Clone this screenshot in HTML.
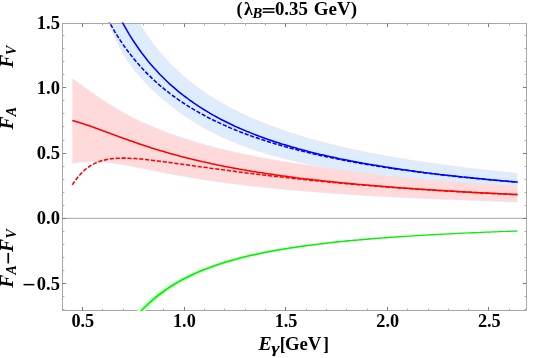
<!DOCTYPE html>
<html><head><meta charset="utf-8"><title>plot</title>
<style>html,body{margin:0;padding:0;background:#fff}svg{display:block}text{font-family:"Liberation Serif",serif}</style></head>
<body><svg width="548" height="358" viewBox="0 0 548 358">
<rect width="548" height="358" fill="#fff"/>
<clipPath id="c"><rect x="62.5" y="22.5" width="464.0" height="288.5"/></clipPath><clipPath id="cb"><rect x="62.5" y="23.5" width="464.0" height="287.0"/></clipPath>
<g clip-path="url(#cb)"><polygon points="72.3,78.8 74.4,80.1 76.4,81.5 78.4,83.0 80.5,84.4 82.5,85.9 84.5,87.4 86.6,88.8 88.6,90.3 90.6,91.8 92.7,93.2 94.7,94.6 96.7,96.0 98.8,97.4 100.8,98.8 102.8,100.2 104.9,101.5 106.9,102.8 108.9,104.1 111.0,105.4 113.0,106.6 115.0,107.9 117.1,109.1 119.1,110.2 121.1,111.4 123.1,112.5 125.2,113.6 127.2,114.7 129.2,115.8 131.3,116.9 133.3,117.9 135.3,118.9 137.4,119.9 139.4,120.9 141.4,121.9 143.5,122.8 145.5,123.7 147.5,124.7 149.6,125.5 151.6,126.4 153.6,127.3 155.7,128.1 157.7,129.0 159.7,129.8 161.8,130.6 163.8,131.4 165.8,132.1 167.9,132.9 169.9,133.7 171.9,134.4 174.0,135.1 176.0,135.8 178.0,136.5 180.1,137.2 182.1,137.9 184.1,138.5 186.2,139.2 188.2,139.8 190.2,140.5 192.3,141.1 194.3,141.7 196.3,142.3 198.4,142.9 200.4,143.5 202.4,144.1 204.5,144.6 206.5,145.2 208.5,145.8 210.5,146.3 212.6,146.8 214.6,147.4 216.6,147.9 218.7,148.4 220.7,148.9 222.7,149.4 224.8,149.9 226.8,150.4 228.8,150.8 230.9,151.3 232.9,151.8 234.9,152.2 237.0,152.7 239.0,153.1 241.0,153.6 243.1,154.0 245.1,154.4 247.1,154.9 249.2,155.3 251.2,155.7 253.2,156.1 255.3,156.5 257.3,156.9 259.3,157.3 261.4,157.7 263.4,158.0 265.4,158.4 267.5,158.8 269.5,159.1 271.5,159.5 273.6,159.9 275.6,160.2 277.6,160.6 279.7,160.9 281.7,161.3 283.7,161.6 285.8,161.9 287.8,162.2 289.8,162.6 291.8,162.9 293.9,163.2 295.9,163.5 297.9,163.8 300.0,164.1 302.0,164.4 304.0,164.7 306.1,165.0 308.1,165.3 310.1,165.6 312.2,165.9 314.2,166.2 316.2,166.5 318.3,166.8 320.3,167.0 322.3,167.3 324.4,167.6 326.4,167.8 328.4,168.1 330.5,168.4 332.5,168.6 334.5,168.9 336.6,169.1 338.6,169.4 340.6,169.6 342.7,169.9 344.7,170.1 346.7,170.3 348.8,170.6 350.8,170.8 352.8,171.1 354.9,171.3 356.9,171.5 358.9,171.7 361.0,172.0 363.0,172.2 365.0,172.4 367.0,172.6 369.1,172.8 371.1,173.1 373.1,173.3 375.2,173.5 377.2,173.7 379.2,173.9 381.3,174.1 383.3,174.3 385.3,174.5 387.4,174.7 389.4,174.9 391.4,175.1 393.5,175.3 395.5,175.5 397.5,175.7 399.6,175.8 401.6,176.0 403.6,176.2 405.7,176.4 407.7,176.6 409.7,176.8 411.8,176.9 413.8,177.1 415.8,177.3 417.9,177.5 419.9,177.6 421.9,177.8 424.0,178.0 426.0,178.1 428.0,178.3 430.1,178.5 432.1,178.6 434.1,178.8 436.2,179.0 438.2,179.1 440.2,179.3 442.3,179.4 444.3,179.6 446.3,179.8 448.4,179.9 450.4,180.1 452.4,180.2 454.4,180.4 456.5,180.5 458.5,180.7 460.5,180.8 462.6,181.0 464.6,181.1 466.6,181.2 468.7,181.4 470.7,181.5 472.7,181.7 474.8,181.8 476.8,181.9 478.8,182.1 480.9,182.2 482.9,182.3 484.9,182.5 487.0,182.6 489.0,182.7 491.0,182.9 493.1,183.0 495.1,183.1 497.1,183.3 499.2,183.4 501.2,183.5 503.2,183.6 505.3,183.8 507.3,183.9 509.3,184.0 511.4,184.1 513.4,184.2 515.4,184.4 517.5,184.5 517.5,201.9 515.4,201.9 513.4,201.8 511.4,201.7 509.3,201.7 507.3,201.6 505.3,201.5 503.2,201.5 501.2,201.4 499.2,201.3 497.1,201.3 495.1,201.2 493.1,201.1 491.0,201.1 489.0,201.0 487.0,200.9 484.9,200.9 482.9,200.8 480.9,200.7 478.8,200.6 476.8,200.6 474.8,200.5 472.7,200.4 470.7,200.4 468.7,200.3 466.6,200.2 464.6,200.1 462.6,200.0 460.5,200.0 458.5,199.9 456.5,199.8 454.4,199.7 452.4,199.6 450.4,199.6 448.4,199.5 446.3,199.4 444.3,199.3 442.3,199.2 440.2,199.1 438.2,199.1 436.2,199.0 434.1,198.9 432.1,198.8 430.1,198.7 428.0,198.6 426.0,198.5 424.0,198.4 421.9,198.3 419.9,198.3 417.9,198.2 415.8,198.1 413.8,198.0 411.8,197.9 409.7,197.8 407.7,197.7 405.7,197.6 403.6,197.5 401.6,197.4 399.6,197.3 397.5,197.2 395.5,197.1 393.5,197.0 391.4,196.9 389.4,196.7 387.4,196.6 385.3,196.5 383.3,196.4 381.3,196.3 379.2,196.2 377.2,196.1 375.2,196.0 373.1,195.8 371.1,195.7 369.1,195.6 367.0,195.5 365.0,195.4 363.0,195.2 361.0,195.1 358.9,195.0 356.9,194.9 354.9,194.7 352.8,194.6 350.8,194.5 348.8,194.4 346.7,194.2 344.7,194.1 342.7,194.0 340.6,193.8 338.6,193.7 336.6,193.5 334.5,193.4 332.5,193.2 330.5,193.1 328.4,193.0 326.4,192.8 324.4,192.7 322.3,192.5 320.3,192.4 318.3,192.2 316.2,192.0 314.2,191.9 312.2,191.7 310.1,191.6 308.1,191.4 306.1,191.2 304.0,191.1 302.0,190.9 300.0,190.7 297.9,190.5 295.9,190.4 293.9,190.2 291.8,190.0 289.8,189.8 287.8,189.6 285.8,189.5 283.7,189.3 281.7,189.1 279.7,188.9 277.6,188.7 275.6,188.5 273.6,188.3 271.5,188.1 269.5,187.9 267.5,187.7 265.4,187.5 263.4,187.2 261.4,187.0 259.3,186.8 257.3,186.6 255.3,186.4 253.2,186.1 251.2,185.9 249.2,185.7 247.1,185.4 245.1,185.2 243.1,184.9 241.0,184.7 239.0,184.4 237.0,184.2 234.9,183.9 232.9,183.7 230.9,183.4 228.8,183.1 226.8,182.9 224.8,182.6 222.7,182.3 220.7,182.0 218.7,181.8 216.6,181.5 214.6,181.2 212.6,180.9 210.5,180.6 208.5,180.3 206.5,180.0 204.5,179.7 202.4,179.4 200.4,179.0 198.4,178.7 196.3,178.4 194.3,178.1 192.3,177.7 190.2,177.4 188.2,177.0 186.2,176.7 184.1,176.3 182.1,176.0 180.1,175.6 178.0,175.3 176.0,174.9 174.0,174.5 171.9,174.2 169.9,173.8 167.9,173.4 165.8,173.0 163.8,172.6 161.8,172.2 159.7,171.8 157.7,171.4 155.7,171.0 153.6,170.6 151.6,170.2 149.6,169.8 147.5,169.4 145.5,169.0 143.5,168.6 141.4,168.2 139.4,167.8 137.4,167.4 135.3,167.0 133.3,166.6 131.3,166.2 129.2,165.8 127.2,165.5 125.2,165.1 123.1,164.7 121.1,164.4 119.1,164.0 117.1,163.7 115.0,163.4 113.0,163.0 111.0,162.8 108.9,162.5 106.9,162.3 104.9,162.0 102.8,161.8 100.8,161.7 98.8,161.5 96.7,161.5 94.7,161.4 92.7,161.4 90.6,161.4 88.6,161.5 86.6,161.6 84.5,161.7 82.5,161.9 80.5,162.2 78.4,162.5 76.4,162.8 74.4,163.1 72.3,163.4" fill="#ffdada"/>
<polyline points="72.3,78.8 74.4,80.1 76.4,81.5 78.4,83.0 80.5,84.4 82.5,85.9 84.5,87.4 86.6,88.8 88.6,90.3 90.6,91.8 92.7,93.2 94.7,94.6 96.7,96.0 98.8,97.4 100.8,98.8 102.8,100.2 104.9,101.5 106.9,102.8 108.9,104.1 111.0,105.4 113.0,106.6 115.0,107.9 117.1,109.1 119.1,110.2 121.1,111.4 123.1,112.5 125.2,113.6 127.2,114.7 129.2,115.8 131.3,116.9 133.3,117.9 135.3,118.9 137.4,119.9 139.4,120.9 141.4,121.9 143.5,122.8 145.5,123.7 147.5,124.7 149.6,125.5 151.6,126.4 153.6,127.3 155.7,128.1 157.7,129.0 159.7,129.8 161.8,130.6 163.8,131.4 165.8,132.1 167.9,132.9 169.9,133.7 171.9,134.4 174.0,135.1 176.0,135.8 178.0,136.5 180.1,137.2 182.1,137.9 184.1,138.5 186.2,139.2 188.2,139.8 190.2,140.5 192.3,141.1 194.3,141.7 196.3,142.3 198.4,142.9 200.4,143.5 202.4,144.1 204.5,144.6 206.5,145.2 208.5,145.8 210.5,146.3 212.6,146.8 214.6,147.4 216.6,147.9 218.7,148.4 220.7,148.9 222.7,149.4 224.8,149.9 226.8,150.4 228.8,150.8 230.9,151.3 232.9,151.8 234.9,152.2 237.0,152.7 239.0,153.1 241.0,153.6 243.1,154.0 245.1,154.4 247.1,154.9 249.2,155.3 251.2,155.7 253.2,156.1 255.3,156.5 257.3,156.9 259.3,157.3 261.4,157.7 263.4,158.0 265.4,158.4 267.5,158.8 269.5,159.1 271.5,159.5 273.6,159.9 275.6,160.2 277.6,160.6 279.7,160.9 281.7,161.3 283.7,161.6 285.8,161.9 287.8,162.2 289.8,162.6 291.8,162.9 293.9,163.2 295.9,163.5 297.9,163.8 300.0,164.1 302.0,164.4 304.0,164.7 306.1,165.0 308.1,165.3 310.1,165.6 312.2,165.9 314.2,166.2 316.2,166.5 318.3,166.8 320.3,167.0 322.3,167.3 324.4,167.6 326.4,167.8 328.4,168.1 330.5,168.4 332.5,168.6 334.5,168.9 336.6,169.1 338.6,169.4 340.6,169.6 342.7,169.9 344.7,170.1 346.7,170.3 348.8,170.6 350.8,170.8 352.8,171.1 354.9,171.3 356.9,171.5 358.9,171.7 361.0,172.0 363.0,172.2 365.0,172.4 367.0,172.6 369.1,172.8 371.1,173.1 373.1,173.3 375.2,173.5 377.2,173.7 379.2,173.9 381.3,174.1 383.3,174.3 385.3,174.5 387.4,174.7 389.4,174.9 391.4,175.1 393.5,175.3 395.5,175.5 397.5,175.7 399.6,175.8 401.6,176.0 403.6,176.2 405.7,176.4 407.7,176.6 409.7,176.8 411.8,176.9 413.8,177.1 415.8,177.3 417.9,177.5 419.9,177.6 421.9,177.8 424.0,178.0 426.0,178.1 428.0,178.3 430.1,178.5 432.1,178.6 434.1,178.8 436.2,179.0 438.2,179.1 440.2,179.3 442.3,179.4 444.3,179.6 446.3,179.8 448.4,179.9 450.4,180.1 452.4,180.2 454.4,180.4 456.5,180.5 458.5,180.7 460.5,180.8 462.6,181.0 464.6,181.1 466.6,181.2 468.7,181.4 470.7,181.5 472.7,181.7 474.8,181.8 476.8,181.9 478.8,182.1 480.9,182.2 482.9,182.3 484.9,182.5 487.0,182.6 489.0,182.7 491.0,182.9 493.1,183.0 495.1,183.1 497.1,183.3 499.2,183.4 501.2,183.5 503.2,183.6 505.3,183.8 507.3,183.9 509.3,184.0 511.4,184.1 513.4,184.2 515.4,184.4 517.5,184.5" fill="none" stroke="#e6e2f6" stroke-width="0.6"/>
<polyline points="72.3,163.4 74.4,163.1 76.4,162.8 78.4,162.5 80.5,162.2 82.5,161.9 84.5,161.7 86.6,161.6 88.6,161.5 90.6,161.4 92.7,161.4 94.7,161.4 96.7,161.5 98.8,161.5 100.8,161.7 102.8,161.8 104.9,162.0 106.9,162.3 108.9,162.5 111.0,162.8 113.0,163.0 115.0,163.4 117.1,163.7 119.1,164.0 121.1,164.4 123.1,164.7 125.2,165.1 127.2,165.5 129.2,165.8 131.3,166.2 133.3,166.6 135.3,167.0 137.4,167.4 139.4,167.8 141.4,168.2 143.5,168.6 145.5,169.0 147.5,169.4 149.6,169.8 151.6,170.2 153.6,170.6 155.7,171.0 157.7,171.4 159.7,171.8 161.8,172.2 163.8,172.6 165.8,173.0 167.9,173.4 169.9,173.8 171.9,174.2 174.0,174.5 176.0,174.9 178.0,175.3 180.1,175.6 182.1,176.0 184.1,176.3 186.2,176.7 188.2,177.0 190.2,177.4 192.3,177.7 194.3,178.1 196.3,178.4 198.4,178.7 200.4,179.0 202.4,179.4 204.5,179.7 206.5,180.0 208.5,180.3 210.5,180.6 212.6,180.9 214.6,181.2 216.6,181.5 218.7,181.8 220.7,182.0 222.7,182.3 224.8,182.6 226.8,182.9 228.8,183.1 230.9,183.4 232.9,183.7 234.9,183.9 237.0,184.2 239.0,184.4 241.0,184.7 243.1,184.9 245.1,185.2 247.1,185.4 249.2,185.7 251.2,185.9 253.2,186.1 255.3,186.4 257.3,186.6 259.3,186.8 261.4,187.0 263.4,187.2 265.4,187.5 267.5,187.7 269.5,187.9 271.5,188.1 273.6,188.3 275.6,188.5 277.6,188.7 279.7,188.9 281.7,189.1 283.7,189.3 285.8,189.5 287.8,189.6 289.8,189.8 291.8,190.0 293.9,190.2 295.9,190.4 297.9,190.5 300.0,190.7 302.0,190.9 304.0,191.1 306.1,191.2 308.1,191.4 310.1,191.6 312.2,191.7 314.2,191.9 316.2,192.0 318.3,192.2 320.3,192.4 322.3,192.5 324.4,192.7 326.4,192.8 328.4,193.0 330.5,193.1 332.5,193.2 334.5,193.4 336.6,193.5 338.6,193.7 340.6,193.8 342.7,194.0 344.7,194.1 346.7,194.2 348.8,194.4 350.8,194.5 352.8,194.6 354.9,194.7 356.9,194.9 358.9,195.0 361.0,195.1 363.0,195.2 365.0,195.4 367.0,195.5 369.1,195.6 371.1,195.7 373.1,195.8 375.2,196.0 377.2,196.1 379.2,196.2 381.3,196.3 383.3,196.4 385.3,196.5 387.4,196.6 389.4,196.7 391.4,196.9 393.5,197.0 395.5,197.1 397.5,197.2 399.6,197.3 401.6,197.4 403.6,197.5 405.7,197.6 407.7,197.7 409.7,197.8 411.8,197.9 413.8,198.0 415.8,198.1 417.9,198.2 419.9,198.3 421.9,198.3 424.0,198.4 426.0,198.5 428.0,198.6 430.1,198.7 432.1,198.8 434.1,198.9 436.2,199.0 438.2,199.1 440.2,199.1 442.3,199.2 444.3,199.3 446.3,199.4 448.4,199.5 450.4,199.6 452.4,199.6 454.4,199.7 456.5,199.8 458.5,199.9 460.5,200.0 462.6,200.0 464.6,200.1 466.6,200.2 468.7,200.3 470.7,200.4 472.7,200.4 474.8,200.5 476.8,200.6 478.8,200.6 480.9,200.7 482.9,200.8 484.9,200.9 487.0,200.9 489.0,201.0 491.0,201.1 493.1,201.1 495.1,201.2 497.1,201.3 499.2,201.3 501.2,201.4 503.2,201.5 505.3,201.5 507.3,201.6 509.3,201.7 511.4,201.7 513.4,201.8 515.4,201.9 517.5,201.9" fill="none" stroke="#e6e2f6" stroke-width="0.6"/>
<polygon points="72.3,-277.7 74.4,-253.9 76.4,-232.3 78.4,-212.7 80.5,-194.7 82.5,-178.3 84.5,-163.1 86.6,-149.2 88.6,-136.3 90.6,-124.3 92.7,-113.2 94.7,-102.8 96.7,-93.2 98.8,-84.1 100.8,-75.6 102.8,-67.6 104.9,-60.1 106.9,-53.0 108.9,-46.3 111.0,-39.9 113.0,-33.9 115.0,-28.2 117.1,-22.7 119.1,-17.5 121.1,-12.6 123.1,-7.8 125.2,-3.3 127.2,1.0 129.2,5.2 131.3,9.2 133.3,13.0 135.3,16.7 137.4,20.2 139.4,23.6 141.4,26.9 143.5,30.1 145.5,33.2 147.5,36.1 149.6,39.0 151.6,41.8 153.6,44.5 155.7,47.1 157.7,49.6 159.7,52.1 161.8,54.4 163.8,56.7 165.8,59.0 167.9,61.2 169.9,63.3 171.9,65.4 174.0,67.4 176.0,69.3 178.0,71.2 180.1,73.1 182.1,74.9 184.1,76.7 186.2,78.4 188.2,80.1 190.2,81.8 192.3,83.4 194.3,84.9 196.3,86.5 198.4,88.0 200.4,89.5 202.4,90.9 204.5,92.3 206.5,93.7 208.5,95.0 210.5,96.4 212.6,97.6 214.6,98.9 216.6,100.2 218.7,101.4 220.7,102.6 222.7,103.7 224.8,104.9 226.8,106.0 228.8,107.1 230.9,108.2 232.9,109.3 234.9,110.3 237.0,111.3 239.0,112.3 241.0,113.3 243.1,114.3 245.1,115.3 247.1,116.2 249.2,117.1 251.2,118.0 253.2,118.9 255.3,119.8 257.3,120.7 259.3,121.5 261.4,122.3 263.4,123.2 265.4,124.0 267.5,124.8 269.5,125.5 271.5,126.3 273.6,127.1 275.6,127.8 277.6,128.5 279.7,129.3 281.7,130.0 283.7,130.7 285.8,131.4 287.8,132.1 289.8,132.7 291.8,133.4 293.9,134.0 295.9,134.7 297.9,135.3 300.0,135.9 302.0,136.6 304.0,137.2 306.1,137.8 308.1,138.3 310.1,138.9 312.2,139.5 314.2,140.1 316.2,140.6 318.3,141.2 320.3,141.7 322.3,142.3 324.4,142.8 326.4,143.3 328.4,143.8 330.5,144.3 332.5,144.8 334.5,145.3 336.6,145.8 338.6,146.3 340.6,146.8 342.7,147.3 344.7,147.7 346.7,148.2 348.8,148.6 350.8,149.1 352.8,149.5 354.9,150.0 356.9,150.4 358.9,150.8 361.0,151.2 363.0,151.7 365.0,152.1 367.0,152.5 369.1,152.9 371.1,153.3 373.1,153.7 375.2,154.1 377.2,154.5 379.2,154.8 381.3,155.2 383.3,155.6 385.3,156.0 387.4,156.3 389.4,156.7 391.4,157.0 393.5,157.4 395.5,157.7 397.5,158.1 399.6,158.4 401.6,158.8 403.6,159.1 405.7,159.4 407.7,159.7 409.7,160.1 411.8,160.4 413.8,160.7 415.8,161.0 417.9,161.3 419.9,161.6 421.9,161.9 424.0,162.2 426.0,162.5 428.0,162.8 430.1,163.1 432.1,163.4 434.1,163.7 436.2,164.0 438.2,164.3 440.2,164.5 442.3,164.8 444.3,165.1 446.3,165.4 448.4,165.6 450.4,165.9 452.4,166.1 454.4,166.4 456.5,166.7 458.5,166.9 460.5,167.2 462.6,167.4 464.6,167.7 466.6,167.9 468.7,168.2 470.7,168.4 472.7,168.6 474.8,168.9 476.8,169.1 478.8,169.3 480.9,169.6 482.9,169.8 484.9,170.0 487.0,170.2 489.0,170.5 491.0,170.7 493.1,170.9 495.1,171.1 497.1,171.3 499.2,171.6 501.2,171.8 503.2,172.0 505.3,172.2 507.3,172.4 509.3,172.6 511.4,172.8 513.4,173.0 515.4,173.2 517.5,173.4 517.5,186.1 515.4,186.0 513.4,185.9 511.4,185.8 509.3,185.6 507.3,185.5 505.3,185.4 503.2,185.3 501.2,185.2 499.2,185.1 497.1,184.9 495.1,184.8 493.1,184.7 491.0,184.6 489.0,184.5 487.0,184.3 484.9,184.2 482.9,184.1 480.9,184.0 478.8,183.8 476.8,183.7 474.8,183.6 472.7,183.4 470.7,183.3 468.7,183.1 466.6,183.0 464.6,182.9 462.6,182.7 460.5,182.6 458.5,182.4 456.5,182.3 454.4,182.1 452.4,182.0 450.4,181.8 448.4,181.7 446.3,181.5 444.3,181.4 442.3,181.2 440.2,181.0 438.2,180.9 436.2,180.7 434.1,180.6 432.1,180.4 430.1,180.2 428.0,180.0 426.0,179.9 424.0,179.7 421.9,179.5 419.9,179.3 417.9,179.1 415.8,178.9 413.8,178.8 411.8,178.6 409.7,178.4 407.7,178.2 405.7,178.0 403.6,177.8 401.6,177.6 399.6,177.4 397.5,177.1 395.5,176.9 393.5,176.7 391.4,176.5 389.4,176.3 387.4,176.1 385.3,175.8 383.3,175.6 381.3,175.4 379.2,175.1 377.2,174.9 375.2,174.6 373.1,174.4 371.1,174.1 369.1,173.9 367.0,173.6 365.0,173.3 363.0,173.1 361.0,172.8 358.9,172.5 356.9,172.2 354.9,172.0 352.8,171.7 350.8,171.4 348.8,171.1 346.7,170.8 344.7,170.5 342.7,170.1 340.6,169.8 338.6,169.5 336.6,169.2 334.5,168.8 332.5,168.5 330.5,168.2 328.4,167.8 326.4,167.5 324.4,167.1 322.3,166.7 320.3,166.3 318.3,166.0 316.2,165.6 314.2,165.2 312.2,164.8 310.1,164.4 308.1,164.0 306.1,163.5 304.0,163.1 302.0,162.7 300.0,162.2 297.9,161.8 295.9,161.3 293.9,160.8 291.8,160.4 289.8,159.9 287.8,159.4 285.8,158.9 283.7,158.3 281.7,157.8 279.7,157.3 277.6,156.7 275.6,156.2 273.6,155.6 271.5,155.0 269.5,154.5 267.5,153.9 265.4,153.2 263.4,152.6 261.4,152.0 259.3,151.3 257.3,150.7 255.3,150.0 253.2,149.3 251.2,148.6 249.2,147.9 247.1,147.2 245.1,146.4 243.1,145.7 241.0,144.9 239.0,144.1 237.0,143.3 234.9,142.5 232.9,141.7 230.9,140.8 228.8,139.9 226.8,139.0 224.8,138.1 222.7,137.2 220.7,136.3 218.7,135.3 216.6,134.3 214.6,133.3 212.6,132.3 210.5,131.2 208.5,130.2 206.5,129.1 204.5,128.0 202.4,126.8 200.4,125.7 198.4,124.5 196.3,123.3 194.3,122.0 192.3,120.8 190.2,119.5 188.2,118.2 186.2,116.8 184.1,115.4 182.1,114.0 180.1,112.6 178.0,111.1 176.0,109.6 174.0,108.1 171.9,106.6 169.9,105.0 167.9,103.3 165.8,101.7 163.8,100.0 161.8,98.2 159.7,96.4 157.7,94.6 155.7,92.7 153.6,90.8 151.6,88.9 149.6,86.8 147.5,84.8 145.5,82.6 143.5,80.4 141.4,78.2 139.4,75.8 137.4,73.4 135.3,70.9 133.3,68.3 131.3,65.6 129.2,62.8 127.2,59.8 125.2,56.7 123.1,53.4 121.1,50.0 119.1,46.2 117.1,42.3 115.0,38.0 113.0,33.4 111.0,28.4 108.9,22.9 106.9,16.8 104.9,10.1 102.8,2.7 100.8,-5.7 98.8,-15.1 96.7,-25.9 94.7,-38.1 92.7,-52.1 90.6,-68.3 88.6,-87.1 86.6,-109.0 84.5,-134.6 82.5,-164.7 80.5,-200.2 78.4,-242.2 76.4,-292.2 74.4,-351.9 72.3,-423.4" fill="#deedfd"/>
<polyline points="72.3,-277.7 74.4,-253.9 76.4,-232.3 78.4,-212.7 80.5,-194.7 82.5,-178.3 84.5,-163.1 86.6,-149.2 88.6,-136.3 90.6,-124.3 92.7,-113.2 94.7,-102.8 96.7,-93.2 98.8,-84.1 100.8,-75.6 102.8,-67.6 104.9,-60.1 106.9,-53.0 108.9,-46.3 111.0,-39.9 113.0,-33.9 115.0,-28.2 117.1,-22.7 119.1,-17.5 121.1,-12.6 123.1,-7.8 125.2,-3.3 127.2,1.0 129.2,5.2 131.3,9.2 133.3,13.0 135.3,16.7 137.4,20.2 139.4,23.6 141.4,26.9 143.5,30.1 145.5,33.2 147.5,36.1 149.6,39.0 151.6,41.8 153.6,44.5 155.7,47.1 157.7,49.6 159.7,52.1 161.8,54.4 163.8,56.7 165.8,59.0 167.9,61.2 169.9,63.3 171.9,65.4 174.0,67.4 176.0,69.3 178.0,71.2 180.1,73.1 182.1,74.9 184.1,76.7 186.2,78.4 188.2,80.1 190.2,81.8 192.3,83.4 194.3,84.9 196.3,86.5 198.4,88.0 200.4,89.5 202.4,90.9 204.5,92.3 206.5,93.7 208.5,95.0 210.5,96.4 212.6,97.6 214.6,98.9 216.6,100.2 218.7,101.4 220.7,102.6 222.7,103.7 224.8,104.9 226.8,106.0 228.8,107.1 230.9,108.2 232.9,109.3 234.9,110.3 237.0,111.3 239.0,112.3 241.0,113.3 243.1,114.3 245.1,115.3 247.1,116.2 249.2,117.1 251.2,118.0 253.2,118.9 255.3,119.8 257.3,120.7 259.3,121.5 261.4,122.3 263.4,123.2 265.4,124.0 267.5,124.8 269.5,125.5 271.5,126.3 273.6,127.1 275.6,127.8 277.6,128.5 279.7,129.3 281.7,130.0 283.7,130.7 285.8,131.4 287.8,132.1 289.8,132.7 291.8,133.4 293.9,134.0 295.9,134.7 297.9,135.3 300.0,135.9 302.0,136.6 304.0,137.2 306.1,137.8 308.1,138.3 310.1,138.9 312.2,139.5 314.2,140.1 316.2,140.6 318.3,141.2 320.3,141.7 322.3,142.3 324.4,142.8 326.4,143.3 328.4,143.8 330.5,144.3 332.5,144.8 334.5,145.3 336.6,145.8 338.6,146.3 340.6,146.8 342.7,147.3 344.7,147.7 346.7,148.2 348.8,148.6 350.8,149.1 352.8,149.5 354.9,150.0 356.9,150.4 358.9,150.8 361.0,151.2 363.0,151.7 365.0,152.1 367.0,152.5 369.1,152.9 371.1,153.3 373.1,153.7 375.2,154.1 377.2,154.5 379.2,154.8 381.3,155.2 383.3,155.6 385.3,156.0 387.4,156.3 389.4,156.7 391.4,157.0 393.5,157.4 395.5,157.7 397.5,158.1 399.6,158.4 401.6,158.8 403.6,159.1 405.7,159.4 407.7,159.7 409.7,160.1 411.8,160.4 413.8,160.7 415.8,161.0 417.9,161.3 419.9,161.6 421.9,161.9 424.0,162.2 426.0,162.5 428.0,162.8 430.1,163.1 432.1,163.4 434.1,163.7 436.2,164.0 438.2,164.3 440.2,164.5 442.3,164.8 444.3,165.1 446.3,165.4 448.4,165.6 450.4,165.9 452.4,166.1 454.4,166.4 456.5,166.7 458.5,166.9 460.5,167.2 462.6,167.4 464.6,167.7 466.6,167.9 468.7,168.2 470.7,168.4 472.7,168.6 474.8,168.9 476.8,169.1 478.8,169.3 480.9,169.6 482.9,169.8 484.9,170.0 487.0,170.2 489.0,170.5 491.0,170.7 493.1,170.9 495.1,171.1 497.1,171.3 499.2,171.6 501.2,171.8 503.2,172.0 505.3,172.2 507.3,172.4 509.3,172.6 511.4,172.8 513.4,173.0 515.4,173.2 517.5,173.4" fill="none" stroke="#fad9dc" stroke-width="0.6"/>
<polyline points="72.3,-423.4 74.4,-351.9 76.4,-292.2 78.4,-242.2 80.5,-200.2 82.5,-164.7 84.5,-134.6 86.6,-109.0 88.6,-87.1 90.6,-68.3 92.7,-52.1 94.7,-38.1 96.7,-25.9 98.8,-15.1 100.8,-5.7 102.8,2.7 104.9,10.1 106.9,16.8 108.9,22.9 111.0,28.4 113.0,33.4 115.0,38.0 117.1,42.3 119.1,46.2 121.1,50.0 123.1,53.4 125.2,56.7 127.2,59.8 129.2,62.8 131.3,65.6 133.3,68.3 135.3,70.9 137.4,73.4 139.4,75.8 141.4,78.2 143.5,80.4 145.5,82.6 147.5,84.8 149.6,86.8 151.6,88.9 153.6,90.8 155.7,92.7 157.7,94.6 159.7,96.4 161.8,98.2 163.8,100.0 165.8,101.7 167.9,103.3 169.9,105.0 171.9,106.6 174.0,108.1 176.0,109.6 178.0,111.1 180.1,112.6 182.1,114.0 184.1,115.4 186.2,116.8 188.2,118.2 190.2,119.5 192.3,120.8 194.3,122.0 196.3,123.3 198.4,124.5 200.4,125.7 202.4,126.8 204.5,128.0 206.5,129.1 208.5,130.2 210.5,131.2 212.6,132.3 214.6,133.3 216.6,134.3 218.7,135.3 220.7,136.3 222.7,137.2 224.8,138.1 226.8,139.0 228.8,139.9 230.9,140.8 232.9,141.7 234.9,142.5 237.0,143.3 239.0,144.1 241.0,144.9 243.1,145.7 245.1,146.4 247.1,147.2 249.2,147.9 251.2,148.6 253.2,149.3 255.3,150.0 257.3,150.7 259.3,151.3 261.4,152.0 263.4,152.6 265.4,153.2 267.5,153.9 269.5,154.5 271.5,155.0 273.6,155.6 275.6,156.2 277.6,156.7 279.7,157.3 281.7,157.8 283.7,158.3 285.8,158.9 287.8,159.4 289.8,159.9 291.8,160.4 293.9,160.8 295.9,161.3 297.9,161.8 300.0,162.2 302.0,162.7 304.0,163.1 306.1,163.5 308.1,164.0 310.1,164.4 312.2,164.8 314.2,165.2 316.2,165.6 318.3,166.0 320.3,166.3 322.3,166.7 324.4,167.1 326.4,167.5 328.4,167.8 330.5,168.2 332.5,168.5 334.5,168.8 336.6,169.2 338.6,169.5 340.6,169.8 342.7,170.1 344.7,170.5 346.7,170.8 348.8,171.1 350.8,171.4 352.8,171.7 354.9,172.0 356.9,172.2 358.9,172.5 361.0,172.8 363.0,173.1 365.0,173.3 367.0,173.6 369.1,173.9 371.1,174.1 373.1,174.4 375.2,174.6 377.2,174.9 379.2,175.1 381.3,175.4 383.3,175.6 385.3,175.8 387.4,176.1 389.4,176.3 391.4,176.5 393.5,176.7 395.5,176.9 397.5,177.1 399.6,177.4 401.6,177.6 403.6,177.8 405.7,178.0 407.7,178.2 409.7,178.4 411.8,178.6 413.8,178.8 415.8,178.9 417.9,179.1 419.9,179.3 421.9,179.5 424.0,179.7 426.0,179.9 428.0,180.0 430.1,180.2 432.1,180.4 434.1,180.6 436.2,180.7 438.2,180.9 440.2,181.0 442.3,181.2 444.3,181.4 446.3,181.5 448.4,181.7 450.4,181.8 452.4,182.0 454.4,182.1 456.5,182.3 458.5,182.4 460.5,182.6 462.6,182.7 464.6,182.9 466.6,183.0 468.7,183.1 470.7,183.3 472.7,183.4 474.8,183.6 476.8,183.7 478.8,183.8 480.9,184.0 482.9,184.1 484.9,184.2 487.0,184.3 489.0,184.5 491.0,184.6 493.1,184.7 495.1,184.8 497.1,184.9 499.2,185.1 501.2,185.2 503.2,185.3 505.3,185.4 507.3,185.5 509.3,185.6 511.4,185.8 513.4,185.9 515.4,186.0 517.5,186.1" fill="none" stroke="#fad9dc" stroke-width="0.6"/></g>
<line x1="62.5" y1="218.3" x2="526.5" y2="218.3" stroke="#a4a4a4" stroke-width="1"/>
<rect x="62.5" y="23.5" width="464.0" height="287.0" fill="none" stroke="#9e9e9e" stroke-width="0.9"/>
<path d="M82.50,310.5v-3.6M82.50,23.5v3.6" stroke="#7c7c7c" stroke-width="1"/>
<path d="M102.50,310.5v-1.9M102.50,23.5v1.9" stroke="#aaaaaa" stroke-width="1"/>
<path d="M123.50,310.5v-1.9M123.50,23.5v1.9" stroke="#aaaaaa" stroke-width="1"/>
<path d="M143.50,310.5v-1.9M143.50,23.5v1.9" stroke="#aaaaaa" stroke-width="1"/>
<path d="M163.50,310.5v-1.9M163.50,23.5v1.9" stroke="#aaaaaa" stroke-width="1"/>
<path d="M184.50,310.5v-3.6M184.50,23.5v3.6" stroke="#7c7c7c" stroke-width="1"/>
<path d="M204.50,310.5v-1.9M204.50,23.5v1.9" stroke="#aaaaaa" stroke-width="1"/>
<path d="M224.50,310.5v-1.9M224.50,23.5v1.9" stroke="#aaaaaa" stroke-width="1"/>
<path d="M245.50,310.5v-1.9M245.50,23.5v1.9" stroke="#aaaaaa" stroke-width="1"/>
<path d="M265.50,310.5v-1.9M265.50,23.5v1.9" stroke="#aaaaaa" stroke-width="1"/>
<path d="M285.50,310.5v-3.6M285.50,23.5v3.6" stroke="#7c7c7c" stroke-width="1"/>
<path d="M306.50,310.5v-1.9M306.50,23.5v1.9" stroke="#aaaaaa" stroke-width="1"/>
<path d="M326.50,310.5v-1.9M326.50,23.5v1.9" stroke="#aaaaaa" stroke-width="1"/>
<path d="M346.50,310.5v-1.9M346.50,23.5v1.9" stroke="#aaaaaa" stroke-width="1"/>
<path d="M367.50,310.5v-1.9M367.50,23.5v1.9" stroke="#aaaaaa" stroke-width="1"/>
<path d="M387.50,310.5v-3.6M387.50,23.5v3.6" stroke="#7c7c7c" stroke-width="1"/>
<path d="M407.50,310.5v-1.9M407.50,23.5v1.9" stroke="#aaaaaa" stroke-width="1"/>
<path d="M428.50,310.5v-1.9M428.50,23.5v1.9" stroke="#aaaaaa" stroke-width="1"/>
<path d="M448.50,310.5v-1.9M448.50,23.5v1.9" stroke="#aaaaaa" stroke-width="1"/>
<path d="M468.50,310.5v-1.9M468.50,23.5v1.9" stroke="#aaaaaa" stroke-width="1"/>
<path d="M488.50,310.5v-3.6M488.50,23.5v3.6" stroke="#7c7c7c" stroke-width="1"/>
<path d="M509.50,310.5v-1.9M509.50,23.5v1.9" stroke="#aaaaaa" stroke-width="1"/>
<path d="M62.5,309.50h1.9M526.5,309.50h-1.9" stroke="#aaaaaa" stroke-width="1"/>
<path d="M62.5,296.50h1.9M526.5,296.50h-1.9" stroke="#aaaaaa" stroke-width="1"/>
<path d="M62.5,283.50h3.6M526.5,283.50h-3.6" stroke="#7c7c7c" stroke-width="1"/>
<path d="M62.5,270.50h1.9M526.5,270.50h-1.9" stroke="#aaaaaa" stroke-width="1"/>
<path d="M62.5,257.50h1.9M526.5,257.50h-1.9" stroke="#aaaaaa" stroke-width="1"/>
<path d="M62.5,244.50h1.9M526.5,244.50h-1.9" stroke="#aaaaaa" stroke-width="1"/>
<path d="M62.5,231.50h1.9M526.5,231.50h-1.9" stroke="#aaaaaa" stroke-width="1"/>
<path d="M62.5,218.50h3.6M526.5,218.50h-3.6" stroke="#7c7c7c" stroke-width="1"/>
<path d="M62.5,205.50h1.9M526.5,205.50h-1.9" stroke="#aaaaaa" stroke-width="1"/>
<path d="M62.5,192.50h1.9M526.5,192.50h-1.9" stroke="#aaaaaa" stroke-width="1"/>
<path d="M62.5,179.50h1.9M526.5,179.50h-1.9" stroke="#aaaaaa" stroke-width="1"/>
<path d="M62.5,166.50h1.9M526.5,166.50h-1.9" stroke="#aaaaaa" stroke-width="1"/>
<path d="M62.5,153.50h3.6M526.5,153.50h-3.6" stroke="#7c7c7c" stroke-width="1"/>
<path d="M62.5,140.50h1.9M526.5,140.50h-1.9" stroke="#aaaaaa" stroke-width="1"/>
<path d="M62.5,126.50h1.9M526.5,126.50h-1.9" stroke="#aaaaaa" stroke-width="1"/>
<path d="M62.5,113.50h1.9M526.5,113.50h-1.9" stroke="#aaaaaa" stroke-width="1"/>
<path d="M62.5,100.50h1.9M526.5,100.50h-1.9" stroke="#aaaaaa" stroke-width="1"/>
<path d="M62.5,87.50h3.6M526.5,87.50h-3.6" stroke="#7c7c7c" stroke-width="1"/>
<path d="M62.5,74.50h1.9M526.5,74.50h-1.9" stroke="#aaaaaa" stroke-width="1"/>
<path d="M62.5,61.50h1.9M526.5,61.50h-1.9" stroke="#aaaaaa" stroke-width="1"/>
<path d="M62.5,48.50h1.9M526.5,48.50h-1.9" stroke="#aaaaaa" stroke-width="1"/>
<path d="M62.5,35.50h1.9M526.5,35.50h-1.9" stroke="#aaaaaa" stroke-width="1"/>
<g clip-path="url(#c)"><polygon points="77.3,491.8 79.3,480.1 81.2,469.1 83.2,458.9 85.1,449.3 87.1,440.3 89.0,431.9 91.0,423.9 92.9,416.5 94.9,409.4 96.8,402.8 98.8,396.5 100.7,390.6 102.7,385.0 104.6,379.7 106.6,374.6 108.5,369.9 110.5,365.3 112.4,361.0 114.4,356.8 116.3,352.9 118.3,349.2 120.2,345.6 122.2,342.2 124.1,338.9 126.1,335.8 128.0,332.8 130.0,329.9 131.9,327.1 133.9,324.5 135.8,322.0 137.8,319.5 139.8,317.2 141.7,314.9 143.7,312.8 145.6,310.7 147.6,308.6 149.6,306.7 151.5,304.8 153.5,303.0 155.5,301.3 157.4,299.6 159.4,297.9 161.4,296.4 163.4,294.8 165.3,293.3 167.3,291.9 169.3,290.5 171.3,289.2 173.3,287.9 175.2,286.6 177.2,285.4 179.2,284.2 181.2,283.0 183.2,281.9 185.2,280.8 187.2,279.7 189.2,278.7 191.2,277.7 193.2,276.7 195.2,275.8 197.2,274.9 199.2,274.0 201.2,273.1 203.2,272.2 205.2,271.4 207.2,270.6 209.2,269.8 211.2,269.0 213.2,268.3 215.2,267.5 217.2,266.8 219.3,266.1 221.3,265.4 223.3,264.8 225.3,264.1 227.3,263.5 229.3,262.9 231.3,262.3 233.4,261.7 235.4,261.1 237.4,260.5 239.4,260.0 241.4,259.4 243.5,258.9 245.5,258.4 247.5,257.9 249.5,257.4 251.5,256.9 253.6,256.4 255.6,255.9 257.6,255.5 259.6,255.0 261.7,254.6 263.7,254.2 265.7,253.8 267.7,253.3 269.7,252.9 271.8,252.5 273.8,252.2 275.8,251.8 277.8,251.4 279.9,251.0 281.9,250.7 283.9,250.3 286.0,250.0 288.0,249.6 290.0,249.3 292.0,249.0 294.1,248.7 296.1,248.3 298.1,248.0 300.1,247.7 302.2,247.4 304.2,247.1 306.2,246.8 308.3,246.6 310.3,246.3 312.3,246.0 314.3,245.7 316.4,245.5 318.4,245.2 320.4,245.0 322.5,244.7 324.5,244.5 326.5,244.2 328.5,244.0 330.6,243.7 332.6,243.5 334.6,243.3 336.7,243.0 338.7,242.8 340.7,242.6 342.8,242.4 344.8,242.2 346.8,242.0 348.8,241.8 350.9,241.6 352.9,241.4 354.9,241.2 357.0,241.0 359.0,240.8 361.0,240.6 363.1,240.4 365.1,240.2 367.1,240.1 369.2,239.9 371.2,239.7 373.2,239.5 375.2,239.4 377.3,239.2 379.3,239.0 381.3,238.9 383.4,238.7 385.4,238.6 387.4,238.4 389.5,238.3 391.5,238.1 393.5,238.0 395.6,237.8 397.6,237.7 399.6,237.5 401.7,237.4 403.7,237.2 405.7,237.1 407.7,237.0 409.8,236.8 411.8,236.7 413.8,236.6 415.9,236.4 417.9,236.3 419.9,236.2 422.0,236.1 424.0,235.9 426.0,235.8 428.1,235.7 430.1,235.6 432.1,235.5 434.2,235.4 436.2,235.2 438.2,235.1 440.3,235.0 442.3,234.9 444.3,234.8 446.4,234.7 448.4,234.6 450.4,234.5 452.4,234.4 454.5,234.3 456.5,234.2 458.5,234.1 460.6,234.0 462.6,233.9 464.6,233.8 466.7,233.7 468.7,233.6 470.7,233.5 472.8,233.4 474.8,233.3 476.8,233.2 478.9,233.1 480.9,233.1 482.9,233.0 485.0,232.9 487.0,232.8 489.0,232.7 491.1,232.6 493.1,232.5 495.1,232.5 497.2,232.4 499.2,232.3 501.2,232.2 503.3,232.1 505.3,232.1 507.3,232.0 509.3,231.9 511.4,231.8 513.4,231.8 515.4,231.7 517.5,231.6 517.4,230.4 515.4,230.5 513.4,230.5 511.3,230.6 509.3,230.7 507.3,230.7 505.2,230.8 503.2,230.9 501.2,231.0 499.1,231.0 497.1,231.1 495.1,231.2 493.0,231.3 491.0,231.3 489.0,231.4 486.9,231.5 484.9,231.6 482.9,231.7 480.8,231.7 478.8,231.8 476.8,231.9 474.7,232.0 472.7,232.1 470.7,232.2 468.6,232.3 466.6,232.3 464.6,232.4 462.5,232.5 460.5,232.6 458.5,232.7 456.4,232.8 454.4,232.9 452.4,233.0 450.3,233.1 448.3,233.2 446.3,233.3 444.2,233.4 442.2,233.5 440.2,233.6 438.1,233.7 436.1,233.8 434.1,233.9 432.0,234.0 430.0,234.1 428.0,234.2 426.0,234.3 423.9,234.5 421.9,234.6 419.9,234.7 417.8,234.8 415.8,234.9 413.8,235.0 411.7,235.2 409.7,235.3 407.7,235.4 405.6,235.5 403.6,235.7 401.5,235.8 399.5,235.9 397.5,236.1 395.4,236.2 393.4,236.3 391.4,236.5 389.3,236.6 387.3,236.7 385.3,236.9 383.2,237.0 381.2,237.2 379.2,237.3 377.1,237.5 375.1,237.6 373.1,237.8 371.0,238.0 369.0,238.1 367.0,238.3 364.9,238.4 362.9,238.6 360.9,238.8 358.8,239.0 356.8,239.1 354.8,239.3 352.7,239.5 350.7,239.7 348.7,239.9 346.6,240.1 344.6,240.2 342.6,240.4 340.5,240.6 338.5,240.8 336.5,241.0 334.4,241.3 332.4,241.5 330.4,241.7 328.3,241.9 326.3,242.1 324.2,242.3 322.2,242.6 320.2,242.8 318.1,243.0 316.1,243.3 314.1,243.5 312.0,243.8 310.0,244.0 308.0,244.3 305.9,244.6 303.9,244.8 301.8,245.1 299.8,245.4 297.8,245.7 295.7,245.9 293.7,246.2 291.7,246.5 289.6,246.8 287.6,247.1 285.5,247.5 283.5,247.8 281.5,248.1 279.4,248.4 277.4,248.8 275.4,249.1 273.3,249.5 271.3,249.8 269.2,250.2 267.2,250.6 265.2,251.0 263.1,251.4 261.1,251.8 259.0,252.2 257.0,252.6 254.9,253.0 252.9,253.5 250.9,253.9 248.8,254.4 246.8,254.8 244.7,255.3 242.7,255.8 240.6,256.3 238.6,256.8 236.5,257.3 234.5,257.8 232.4,258.4 230.4,258.9 228.3,259.5 226.3,260.1 224.2,260.7 222.2,261.3 220.1,261.9 218.1,262.6 216.0,263.3 214.0,263.9 211.9,264.6 209.9,265.4 207.8,266.1 205.8,266.8 203.7,267.6 201.6,268.4 199.6,269.2 197.5,270.1 195.5,271.0 193.4,271.8 191.3,272.8 189.3,273.7 187.2,274.7 185.1,275.7 183.1,276.7 181.0,277.8 178.9,278.9 176.8,280.0 174.8,281.2 172.7,282.4 170.6,283.6 168.5,284.9 166.4,286.3 164.4,287.6 162.3,289.1 160.2,290.5 158.1,292.0 156.0,293.6 153.9,295.3 151.8,296.9 149.7,298.7 147.6,300.5 145.5,302.4 143.4,304.4 141.3,306.4 139.2,308.5 137.1,310.7 135.0,313.0 132.9,315.4 130.8,317.9 128.7,320.4 126.6,323.1 124.4,325.9 122.3,328.9 120.2,331.9 118.1,335.1 116.0,338.5 113.9,341.9 111.8,345.6 109.7,349.4 107.5,353.4 105.4,357.6 103.3,362.0 101.2,366.7 99.1,371.6 97.0,376.7 94.8,382.1 92.7,387.8 90.6,393.8 88.5,400.2 86.4,406.9 84.3,414.1 82.1,421.6 80.0,429.6 77.9,438.2 75.8,447.3 73.7,456.9 71.6,467.3 69.4,478.3 67.3,490.1" fill="#d6ffd6"/>
<polygon points="73.2,491.1 75.3,479.4 77.3,468.4 79.3,458.1 81.3,448.5 83.4,439.4 85.4,431.0 87.4,423.0 89.5,415.5 91.5,408.4 93.5,401.8 95.5,395.5 97.6,389.5 99.6,383.9 101.6,378.5 103.6,373.4 105.7,368.6 107.7,364.0 109.7,359.7 111.7,355.5 113.8,351.6 115.8,347.8 117.8,344.2 119.8,340.8 121.9,337.5 123.9,334.3 125.9,331.3 127.9,328.4 129.9,325.7 132.0,323.0 134.0,320.5 136.0,318.0 138.0,315.7 140.0,313.4 142.1,311.2 144.1,309.1 146.1,307.1 148.1,305.2 150.1,303.3 152.2,301.5 154.2,299.8 156.2,298.1 158.2,296.4 160.2,294.9 162.3,293.4 164.3,291.9 166.3,290.5 168.3,289.1 170.4,287.8 172.4,286.5 174.4,285.2 176.4,284.0 178.4,282.8 180.5,281.7 182.5,280.6 184.5,279.5 186.5,278.4 188.6,277.4 190.6,276.4 192.6,275.5 194.6,274.6 196.6,273.6 198.7,272.8 200.7,271.9 202.7,271.1 204.7,270.3 206.8,269.5 208.8,268.7 210.8,267.9 212.8,267.2 214.9,266.5 216.9,265.8 218.9,265.1 221.0,264.4 223.0,263.8 225.0,263.2 227.0,262.5 229.1,261.9 231.1,261.4 233.1,260.8 235.1,260.2 237.2,259.7 239.2,259.1 241.2,258.6 243.3,258.1 245.3,257.6 247.3,257.1 249.3,256.6 251.4,256.1 253.4,255.7 255.4,255.2 257.5,254.8 259.5,254.4 261.5,253.9 263.5,253.5 265.6,253.1 267.6,252.7 269.6,252.3 271.7,251.9 273.7,251.6 275.7,251.2 277.8,250.8 279.8,250.5 281.8,250.1 283.8,249.8 285.9,249.5 287.9,249.1 289.9,248.8 292.0,248.5 294.0,248.2 296.0,247.9 298.1,247.6 300.1,247.3 302.1,247.0 304.1,246.7 306.2,246.4 308.2,246.1 310.2,245.9 312.3,245.6 314.3,245.4 316.3,245.1 318.4,244.8 320.4,244.6 322.4,244.4 324.5,244.1 326.5,243.9 328.5,243.6 330.5,243.4 332.6,243.2 334.6,243.0 336.6,242.8 338.7,242.5 340.7,242.3 342.7,242.1 344.8,241.9 346.8,241.7 348.8,241.5 350.9,241.3 352.9,241.1 354.9,240.9 357.0,240.8 359.0,240.6 361.0,240.4 363.0,240.2 365.1,240.0 367.1,239.9 369.1,239.7 371.2,239.5 373.2,239.3 375.2,239.2 377.3,239.0 379.3,238.9 381.3,238.7 383.4,238.6 385.4,238.4 387.4,238.2 389.5,238.1 391.5,238.0 393.5,237.8 395.6,237.7 397.6,237.5 399.6,237.4 401.6,237.2 403.7,237.1 405.7,237.0 407.7,236.8 409.8,236.7 411.8,236.6 413.8,236.5 415.9,236.3 417.9,236.2 419.9,236.1 422.0,236.0 424.0,235.8 426.0,235.7 428.1,235.6 430.1,235.5 432.1,235.4 434.2,235.3 436.2,235.2 438.2,235.0 440.3,234.9 442.3,234.8 444.3,234.7 446.3,234.6 448.4,234.5 450.4,234.4 452.4,234.3 454.5,234.2 456.5,234.1 458.5,234.0 460.6,233.9 462.6,233.8 464.6,233.7 466.7,233.6 468.7,233.5 470.7,233.4 472.8,233.4 474.8,233.3 476.8,233.2 478.9,233.1 480.9,233.0 482.9,232.9 485.0,232.8 487.0,232.7 489.0,232.7 491.1,232.6 493.1,232.5 495.1,232.4 497.2,232.3 499.2,232.3 501.2,232.2 503.2,232.1 505.3,232.0 507.3,232.0 509.3,231.9 511.4,231.8 513.4,231.7 515.4,231.7 517.5,231.6 517.4,230.4 515.4,230.5 513.4,230.6 511.3,230.6 509.3,230.7 507.3,230.8 505.2,230.9 503.2,230.9 501.2,231.0 499.1,231.1 497.1,231.2 495.1,231.2 493.0,231.3 491.0,231.4 489.0,231.5 486.9,231.6 484.9,231.6 482.9,231.7 480.8,231.8 478.8,231.9 476.8,232.0 474.7,232.1 472.7,232.1 470.7,232.2 468.6,232.3 466.6,232.4 464.6,232.5 462.5,232.6 460.5,232.7 458.5,232.8 456.5,232.9 454.4,233.0 452.4,233.1 450.4,233.2 448.3,233.3 446.3,233.4 444.3,233.5 442.2,233.6 440.2,233.7 438.2,233.8 436.1,233.9 434.1,234.0 432.1,234.1 430.0,234.2 428.0,234.3 426.0,234.4 423.9,234.6 421.9,234.7 419.9,234.8 417.8,234.9 415.8,235.0 413.8,235.2 411.7,235.3 409.7,235.4 407.7,235.5 405.6,235.7 403.6,235.8 401.6,235.9 399.5,236.1 397.5,236.2 395.5,236.3 393.4,236.5 391.4,236.6 389.4,236.8 387.3,236.9 385.3,237.1 383.3,237.2 381.2,237.4 379.2,237.5 377.2,237.7 375.1,237.8 373.1,238.0 371.1,238.2 369.0,238.3 367.0,238.5 365.0,238.7 362.9,238.8 360.9,239.0 358.9,239.2 356.8,239.4 354.8,239.5 352.8,239.7 350.7,239.9 348.7,240.1 346.7,240.3 344.6,240.5 342.6,240.7 340.6,240.9 338.5,241.1 336.5,241.3 334.5,241.6 332.4,241.8 330.4,242.0 328.4,242.2 326.3,242.5 324.3,242.7 322.3,242.9 320.2,243.2 318.2,243.4 316.1,243.7 314.1,243.9 312.1,244.2 310.0,244.4 308.0,244.7 306.0,245.0 303.9,245.2 301.9,245.5 299.9,245.8 297.8,246.1 295.8,246.4 293.8,246.7 291.7,247.0 289.7,247.3 287.7,247.7 285.6,248.0 283.6,248.3 281.6,248.7 279.5,249.0 277.5,249.3 275.5,249.7 273.4,250.1 271.4,250.4 269.3,250.8 267.3,251.2 265.3,251.6 263.2,252.0 261.2,252.4 259.2,252.9 257.1,253.3 255.1,253.7 253.1,254.2 251.0,254.6 249.0,255.1 247.0,255.6 244.9,256.1 242.9,256.6 240.8,257.1 238.8,257.6 236.8,258.2 234.7,258.7 232.7,259.3 230.7,259.8 228.6,260.4 226.6,261.0 224.5,261.6 222.5,262.3 220.5,262.9 218.4,263.6 216.4,264.3 214.3,265.0 212.3,265.7 210.3,266.4 208.2,267.2 206.2,268.0 204.2,268.8 202.1,269.6 200.1,270.4 198.0,271.3 196.0,272.2 194.0,273.1 191.9,274.0 189.9,275.0 187.8,276.0 185.8,277.0 183.7,278.0 181.7,279.1 179.7,280.2 177.6,281.4 175.6,282.6 173.5,283.8 171.5,285.0 169.4,286.3 167.4,287.7 165.4,289.1 163.3,290.5 161.3,292.0 159.2,293.5 157.2,295.1 155.1,296.8 153.1,298.5 151.0,300.2 149.0,302.0 147.0,303.9 144.9,305.9 142.9,307.9 140.8,310.1 138.8,312.2 136.7,314.5 134.7,316.9 132.6,319.4 130.6,321.9 128.6,324.6 126.5,327.4 124.5,330.3 122.4,333.4 120.4,336.5 118.3,339.9 116.3,343.3 114.3,347.0 112.2,350.8 110.2,354.7 108.1,358.9 106.1,363.3 104.0,367.9 102.0,372.8 100.0,377.9 97.9,383.3 95.9,388.9 93.8,394.9 91.8,401.2 89.8,407.9 87.7,415.0 85.7,422.6 83.7,430.5 81.6,439.0 79.6,448.1 77.5,457.7 75.5,468.0 73.5,479.0 71.4,490.8" fill="#00f000"/>
<polyline points="72.3,184.9 74.4,181.8 76.4,179.0 78.4,176.5 80.5,174.2 82.5,172.1 84.5,170.2 86.6,168.5 88.6,167.0 90.6,165.7 92.7,164.5 94.7,163.4 96.7,162.5 98.8,161.7 100.8,161.0 102.8,160.4 104.9,159.9 106.9,159.5 108.9,159.1 111.0,158.8 113.0,158.6 115.0,158.4 117.1,158.3 119.1,158.2 121.1,158.1 123.1,158.1 125.2,158.1 127.2,158.2 129.2,158.3 131.3,158.4 133.3,158.5 135.3,158.6 137.4,158.8 139.4,158.9 141.4,159.1 143.5,159.3 145.5,159.5 147.5,159.7 149.6,160.0 151.6,160.2 153.6,160.4 155.7,160.7 157.7,160.9 159.7,161.2 161.8,161.5 163.8,161.7 165.8,162.0 167.9,162.3 169.9,162.5 171.9,162.8 174.0,163.1 176.0,163.4 178.0,163.7 180.1,163.9 182.1,164.2 184.1,164.5 186.2,164.8 188.2,165.1 190.2,165.4 192.3,165.6 194.3,165.9 196.3,166.2 198.4,166.5 200.4,166.8 202.4,167.0 204.5,167.3 206.5,167.6 208.5,167.9 210.5,168.2 212.6,168.4 214.6,168.7 216.6,169.0 218.7,169.3 220.7,169.5 222.7,169.8 224.8,170.1 226.8,170.3 228.8,170.6 230.9,170.9 232.9,171.1 234.9,171.4 237.0,171.7 239.0,171.9 241.0,172.2 243.1,172.5 245.1,172.7 247.1,173.0 249.2,173.2 251.2,173.5 253.2,173.7 255.3,174.0 257.3,174.2 259.3,174.5 261.4,174.7 263.4,175.0 265.4,175.2 267.5,175.5 269.5,175.7 271.5,175.9 273.6,176.2 275.6,176.4 277.6,176.6 279.7,176.9 281.7,177.1 283.7,177.3 285.8,177.6 287.8,177.8 289.8,178.0 291.8,178.2 293.9,178.5 295.9,178.7 297.9,178.9 300.0,179.1 302.0,179.3 304.0,179.6 306.1,179.8 308.1,180.0 310.1,180.2 312.2,180.4 314.2,180.6 316.2,180.8 318.3,181.0 320.3,181.2 322.3,181.4 324.4,181.6 326.4,181.8 328.4,182.0 330.5,182.2 332.5,182.4 334.5,182.6 336.6,182.8 338.6,183.0 340.6,183.1 342.7,183.3 344.7,183.5 346.7,183.7 348.8,183.9 350.8,184.0 352.8,184.2 354.9,184.4 356.9,184.6 358.9,184.7 361.0,184.9 363.0,185.1 365.0,185.3 367.0,185.4 369.1,185.6 371.1,185.7 373.1,185.9 375.2,186.1 377.2,186.2 379.2,186.4 381.3,186.5 383.3,186.7 385.3,186.9 387.4,187.0 389.4,187.2 391.4,187.3 393.5,187.5 395.5,187.6 397.5,187.8 399.6,187.9 401.6,188.1 403.6,188.2 405.7,188.3 407.7,188.5 409.7,188.6 411.8,188.8 413.8,188.9 415.8,189.0 417.9,189.2 419.9,189.3 421.9,189.4 424.0,189.6 426.0,189.7 428.0,189.8 430.1,190.0 432.1,190.1 434.1,190.2 436.2,190.3 438.2,190.5 440.2,190.6 442.3,190.7 444.3,190.8 446.3,191.0 448.4,191.1 450.4,191.2 452.4,191.3 454.4,191.4 456.5,191.5 458.5,191.7 460.5,191.8 462.6,191.9 464.6,192.0 466.6,192.1 468.7,192.2 470.7,192.3 472.7,192.4 474.8,192.5 476.8,192.7 478.8,192.8 480.9,192.9 482.9,193.0 484.9,193.1 487.0,193.2 489.0,193.3 491.0,193.4 493.1,193.5 495.1,193.6 497.1,193.7 499.2,193.8 501.2,193.9 503.2,194.0 505.3,194.1 507.3,194.2 509.3,194.3 511.4,194.4 513.4,194.5 515.4,194.5 517.5,194.6" fill="none" stroke="#ff0000" stroke-width="1.55" stroke-dasharray="4.2,1.7"/>
<polyline points="72.3,120.5 74.4,121.1 76.4,121.7 78.4,122.3 80.5,122.9 82.5,123.6 84.5,124.2 86.6,124.9 88.6,125.6 90.6,126.3 92.7,127.0 94.7,127.7 96.7,128.4 98.8,129.2 100.8,129.9 102.8,130.7 104.9,131.4 106.9,132.2 108.9,132.9 111.0,133.7 113.0,134.4 115.0,135.2 117.1,135.9 119.1,136.7 121.1,137.4 123.1,138.2 125.2,138.9 127.2,139.6 129.2,140.4 131.3,141.1 133.3,141.8 135.3,142.5 137.4,143.2 139.4,143.9 141.4,144.6 143.5,145.2 145.5,145.9 147.5,146.6 149.6,147.2 151.6,147.9 153.6,148.5 155.7,149.2 157.7,149.8 159.7,150.4 161.8,151.0 163.8,151.6 165.8,152.2 167.9,152.8 169.9,153.4 171.9,153.9 174.0,154.5 176.0,155.1 178.0,155.6 180.1,156.2 182.1,156.7 184.1,157.2 186.2,157.7 188.2,158.2 190.2,158.8 192.3,159.3 194.3,159.7 196.3,160.2 198.4,160.7 200.4,161.2 202.4,161.7 204.5,162.1 206.5,162.6 208.5,163.0 210.5,163.5 212.6,163.9 214.6,164.3 216.6,164.7 218.7,165.2 220.7,165.6 222.7,166.0 224.8,166.4 226.8,166.8 228.8,167.2 230.9,167.6 232.9,167.9 234.9,168.3 237.0,168.7 239.0,169.1 241.0,169.4 243.1,169.8 245.1,170.1 247.1,170.5 249.2,170.8 251.2,171.2 253.2,171.5 255.3,171.8 257.3,172.2 259.3,172.5 261.4,172.8 263.4,173.1 265.4,173.4 267.5,173.7 269.5,174.0 271.5,174.3 273.6,174.6 275.6,174.9 277.6,175.2 279.7,175.5 281.7,175.8 283.7,176.0 285.8,176.3 287.8,176.6 289.8,176.9 291.8,177.1 293.9,177.4 295.9,177.7 297.9,177.9 300.0,178.2 302.0,178.4 304.0,178.7 306.1,178.9 308.1,179.1 310.1,179.4 312.2,179.6 314.2,179.9 316.2,180.1 318.3,180.3 320.3,180.5 322.3,180.8 324.4,181.0 326.4,181.2 328.4,181.4 330.5,181.6 332.5,181.8 334.5,182.1 336.6,182.3 338.6,182.5 340.6,182.7 342.7,182.9 344.7,183.1 346.7,183.3 348.8,183.5 350.8,183.7 352.8,183.8 354.9,184.0 356.9,184.2 358.9,184.4 361.0,184.6 363.0,184.8 365.0,184.9 367.0,185.1 369.1,185.3 371.1,185.5 373.1,185.6 375.2,185.8 377.2,186.0 379.2,186.1 381.3,186.3 383.3,186.5 385.3,186.6 387.4,186.8 389.4,187.0 391.4,187.1 393.5,187.3 395.5,187.4 397.5,187.6 399.6,187.7 401.6,187.9 403.6,188.0 405.7,188.2 407.7,188.3 409.7,188.5 411.8,188.6 413.8,188.8 415.8,188.9 417.9,189.0 419.9,189.2 421.9,189.3 424.0,189.4 426.0,189.6 428.0,189.7 430.1,189.8 432.1,190.0 434.1,190.1 436.2,190.2 438.2,190.4 440.2,190.5 442.3,190.6 444.3,190.7 446.3,190.9 448.4,191.0 450.4,191.1 452.4,191.2 454.4,191.3 456.5,191.5 458.5,191.6 460.5,191.7 462.6,191.8 464.6,191.9 466.6,192.0 468.7,192.2 470.7,192.3 472.7,192.4 474.8,192.5 476.8,192.6 478.8,192.7 480.9,192.8 482.9,192.9 484.9,193.0 487.0,193.1 489.0,193.2 491.0,193.3 493.1,193.4 495.1,193.5 497.1,193.6 499.2,193.7 501.2,193.8 503.2,193.9 505.3,194.0 507.3,194.1 509.3,194.2 511.4,194.3 513.4,194.4 515.4,194.5 517.5,194.6" fill="none" stroke="#ff0000" stroke-width="1.55"/>
<polyline points="72.3,-86.9 74.4,-77.5 76.4,-68.7 78.4,-60.4 80.5,-52.7 82.5,-45.4 84.5,-38.6 86.6,-32.1 88.6,-26.0 90.6,-20.1 92.7,-14.6 94.7,-9.4 96.7,-4.4 98.8,0.4 100.8,5.0 102.8,9.3 104.9,13.5 106.9,17.5 108.9,21.4 111.0,25.1 113.0,28.6 115.0,32.1 117.1,35.4 119.1,38.6 121.1,41.6 123.1,44.6 125.2,47.5 127.2,50.3 129.2,53.0 131.3,55.6 133.3,58.1 135.3,60.6 137.4,63.0 139.4,65.3 141.4,67.5 143.5,69.7 145.5,71.9 147.5,73.9 149.6,75.9 151.6,77.9 153.6,79.8 155.7,81.7 157.7,83.5 159.7,85.3 161.8,87.0 163.8,88.7 165.8,90.3 167.9,91.9 169.9,93.5 171.9,95.0 174.0,96.5 176.0,98.0 178.0,99.4 180.1,100.8 182.1,102.2 184.1,103.5 186.2,104.9 188.2,106.1 190.2,107.4 192.3,108.6 194.3,109.8 196.3,111.0 198.4,112.2 200.4,113.3 202.4,114.4 204.5,115.5 206.5,116.6 208.5,117.7 210.5,118.7 212.6,119.7 214.6,120.7 216.6,121.7 218.7,122.6 220.7,123.6 222.7,124.5 224.8,125.4 226.8,126.3 228.8,127.2 230.9,128.1 232.9,128.9 234.9,129.7 237.0,130.6 239.0,131.4 241.0,132.2 243.1,132.9 245.1,133.7 247.1,134.5 249.2,135.2 251.2,135.9 253.2,136.7 255.3,137.4 257.3,138.1 259.3,138.8 261.4,139.4 263.4,140.1 265.4,140.8 267.5,141.4 269.5,142.1 271.5,142.7 273.6,143.3 275.6,143.9 277.6,144.5 279.7,145.1 281.7,145.7 283.7,146.3 285.8,146.8 287.8,147.4 289.8,147.9 291.8,148.5 293.9,149.0 295.9,149.6 297.9,150.1 300.0,150.6 302.0,151.1 304.0,151.6 306.1,152.1 308.1,152.6 310.1,153.1 312.2,153.6 314.2,154.0 316.2,154.5 318.3,155.0 320.3,155.4 322.3,155.9 324.4,156.3 326.4,156.7 328.4,157.2 330.5,157.6 332.5,158.0 334.5,158.4 336.6,158.8 338.6,159.2 340.6,159.6 342.7,160.0 344.7,160.4 346.7,160.8 348.8,161.2 350.8,161.6 352.8,161.9 354.9,162.3 356.9,162.7 358.9,163.0 361.0,163.4 363.0,163.7 365.0,164.1 367.0,164.4 369.1,164.8 371.1,165.1 373.1,165.4 375.2,165.8 377.2,166.1 379.2,166.4 381.3,166.7 383.3,167.1 385.3,167.4 387.4,167.7 389.4,168.0 391.4,168.3 393.5,168.6 395.5,168.9 397.5,169.2 399.6,169.5 401.6,169.7 403.6,170.0 405.7,170.3 407.7,170.6 409.7,170.8 411.8,171.1 413.8,171.4 415.8,171.7 417.9,171.9 419.9,172.2 421.9,172.4 424.0,172.7 426.0,172.9 428.0,173.2 430.1,173.4 432.1,173.7 434.1,173.9 436.2,174.2 438.2,174.4 440.2,174.6 442.3,174.9 444.3,175.1 446.3,175.3 448.4,175.6 450.4,175.8 452.4,176.0 454.4,176.2 456.5,176.5 458.5,176.7 460.5,176.9 462.6,177.1 464.6,177.3 466.6,177.5 468.7,177.7 470.7,177.9 472.7,178.1 474.8,178.3 476.8,178.5 478.8,178.7 480.9,178.9 482.9,179.1 484.9,179.3 487.0,179.5 489.0,179.7 491.0,179.9 493.1,180.1 495.1,180.2 497.1,180.4 499.2,180.6 501.2,180.8 503.2,181.0 505.3,181.1 507.3,181.3 509.3,181.5 511.4,181.7 513.4,181.8 515.4,182.0 517.5,182.2" fill="none" stroke="#0000ff" stroke-width="1.55" stroke-dasharray="4.2,1.7"/>
<polyline points="72.3,-165.7 74.4,-150.6 76.4,-136.8 78.4,-124.0 80.5,-112.1 82.5,-101.2 84.5,-90.9 86.6,-81.4 88.6,-72.5 90.6,-64.1 92.7,-56.3 94.7,-48.8 96.7,-41.8 98.8,-35.2 100.8,-28.9 102.8,-23.0 104.9,-17.3 106.9,-11.9 108.9,-6.8 111.0,-1.9 113.0,2.8 115.0,7.3 117.1,11.7 119.1,15.8 121.1,19.8 123.1,23.6 125.2,27.3 127.2,30.8 129.2,34.3 131.3,37.6 133.3,40.8 135.3,43.8 137.4,46.8 139.4,49.7 141.4,52.5 143.5,55.2 145.5,57.8 147.5,60.4 149.6,62.9 151.6,65.2 153.6,67.6 155.7,69.8 157.7,72.0 159.7,74.2 161.8,76.3 163.8,78.3 165.8,80.3 167.9,82.2 169.9,84.1 171.9,85.9 174.0,87.7 176.0,89.4 178.0,91.1 180.1,92.8 182.1,94.4 184.1,96.0 186.2,97.5 188.2,99.0 190.2,100.5 192.3,101.9 194.3,103.3 196.3,104.7 198.4,106.1 200.4,107.4 202.4,108.7 204.5,110.0 206.5,111.2 208.5,112.4 210.5,113.6 212.6,114.8 214.6,115.9 216.6,117.0 218.7,118.1 220.7,119.2 222.7,120.2 224.8,121.3 226.8,122.3 228.8,123.3 230.9,124.3 232.9,125.2 234.9,126.2 237.0,127.1 239.0,128.0 241.0,128.9 243.1,129.8 245.1,130.6 247.1,131.5 249.2,132.3 251.2,133.1 253.2,133.9 255.3,134.7 257.3,135.5 259.3,136.3 261.4,137.0 263.4,137.7 265.4,138.5 267.5,139.2 269.5,139.9 271.5,140.6 273.6,141.3 275.6,141.9 277.6,142.6 279.7,143.2 281.7,143.9 283.7,144.5 285.8,145.1 287.8,145.7 289.8,146.3 291.8,146.9 293.9,147.5 295.9,148.1 297.9,148.7 300.0,149.2 302.0,149.8 304.0,150.3 306.1,150.8 308.1,151.4 310.1,151.9 312.2,152.4 314.2,152.9 316.2,153.4 318.3,153.9 320.3,154.4 322.3,154.8 324.4,155.3 326.4,155.8 328.4,156.2 330.5,156.7 332.5,157.1 334.5,157.6 336.6,158.0 338.6,158.4 340.6,158.9 342.7,159.3 344.7,159.7 346.7,160.1 348.8,160.5 350.8,160.9 352.8,161.3 354.9,161.7 356.9,162.1 358.9,162.4 361.0,162.8 363.0,163.2 365.0,163.5 367.0,163.9 369.1,164.3 371.1,164.6 373.1,165.0 375.2,165.3 377.2,165.6 379.2,166.0 381.3,166.3 383.3,166.6 385.3,167.0 387.4,167.3 389.4,167.6 391.4,167.9 393.5,168.2 395.5,168.5 397.5,168.8 399.6,169.1 401.6,169.4 403.6,169.7 405.7,170.0 407.7,170.3 409.7,170.6 411.8,170.8 413.8,171.1 415.8,171.4 417.9,171.7 419.9,171.9 421.9,172.2 424.0,172.5 426.0,172.7 428.0,173.0 430.1,173.2 432.1,173.5 434.1,173.7 436.2,174.0 438.2,174.2 440.2,174.5 442.3,174.7 444.3,174.9 446.3,175.2 448.4,175.4 450.4,175.6 452.4,175.9 454.4,176.1 456.5,176.3 458.5,176.5 460.5,176.7 462.6,177.0 464.6,177.2 466.6,177.4 468.7,177.6 470.7,177.8 472.7,178.0 474.8,178.2 476.8,178.4 478.8,178.6 480.9,178.8 482.9,179.0 484.9,179.2 487.0,179.4 489.0,179.6 491.0,179.8 493.1,180.0 495.1,180.2 497.1,180.3 499.2,180.5 501.2,180.7 503.2,180.9 505.3,181.1 507.3,181.2 509.3,181.4 511.4,181.6 513.4,181.8 515.4,181.9 517.5,182.1" fill="none" stroke="#0000ff" stroke-width="1.55"/></g>
<g style="filter:grayscale(1)" font-family="Liberation Serif, serif" font-weight="bold" font-size="18" fill="#000"><text x="60.0" y="28.6" text-anchor="end" textLength="23.2" lengthAdjust="spacingAndGlyphs">1.5</text>
<text x="60.0" y="93.8" text-anchor="end" textLength="23.2" lengthAdjust="spacingAndGlyphs">1.0</text>
<text x="60.0" y="159.0" text-anchor="end" textLength="23.2" lengthAdjust="spacingAndGlyphs">0.5</text>
<text x="60.0" y="224.2" text-anchor="end" textLength="23.2" lengthAdjust="spacingAndGlyphs">0.0</text>
<text x="60.0" y="289.5" text-anchor="end" textLength="23.2" lengthAdjust="spacingAndGlyphs">0.5</text>
<rect x="23.5" y="283.9" width="10.9" height="1.5"/>
<text x="82.8" y="327" text-anchor="middle" textLength="22.8" lengthAdjust="spacingAndGlyphs">0.5</text>
<text x="184.4" y="327" text-anchor="middle" textLength="22.8" lengthAdjust="spacingAndGlyphs">1.0</text>
<text x="286.1" y="327" text-anchor="middle" textLength="22.8" lengthAdjust="spacingAndGlyphs">1.5</text>
<text x="387.7" y="327" text-anchor="middle" textLength="22.8" lengthAdjust="spacingAndGlyphs">2.0</text>
<text x="489.3" y="327" text-anchor="middle" textLength="22.8" lengthAdjust="spacingAndGlyphs">2.5</text>
<text x="236.4" y="14.9" >(</text>
<text x="244.0" y="14.9" >λ</text>
<text x="252.4" y="18.2" font-style="italic" font-size="14.6">B</text>
<rect x="262.7" y="8.0" width="11.8" height="1.5"/><rect x="262.7" y="11.4" width="11.8" height="1.5"/>
<text x="274.9" y="14.9" textLength="33" lengthAdjust="spacingAndGlyphs">0.35</text>
<text x="313.8" y="14.9" textLength="43.2" lengthAdjust="spacingAndGlyphs">GeV)</text>
<text x="258.6" y="350.2" font-style="italic" textLength="13.2" lengthAdjust="spacingAndGlyphs">E</text>
<text transform="translate(271.3,352.8) scale(1.28,0.93)" font-style="italic" font-size="16">γ</text>
<text x="279.8" y="350.2" >[</text>
<text x="285.0" y="350.2" textLength="36.4" lengthAdjust="spacingAndGlyphs">GeV</text>
<text x="323.0" y="350.2" >]</text>
<g transform="translate(13,67.7) rotate(-90)"><text x="0" y="0" font-style="italic" textLength="13" lengthAdjust="spacingAndGlyphs">F</text><text x="12.8" y="3" font-style="italic" font-size="14.8" textLength="9.2" lengthAdjust="spacingAndGlyphs">V</text></g>
<g transform="translate(13,129.6) rotate(-90)"><text x="0" y="0" font-style="italic" textLength="13" lengthAdjust="spacingAndGlyphs">F</text><text x="13.4" y="3" font-style="italic" font-size="14.8" textLength="9.2" lengthAdjust="spacingAndGlyphs">A</text></g>
<g transform="translate(13,287.8) rotate(-90)"><text x="0" y="0" font-style="italic" textLength="13" lengthAdjust="spacingAndGlyphs">F</text><text x="13.2" y="3" font-style="italic" font-size="14.8" textLength="9.2" lengthAdjust="spacingAndGlyphs">A</text><rect x="24.4" y="-5.6" width="10.5" height="1.7"/><text x="35.9" y="0" font-style="italic" textLength="13" lengthAdjust="spacingAndGlyphs">F</text><text x="49.2" y="3" font-style="italic" font-size="14.8" textLength="9.2" lengthAdjust="spacingAndGlyphs">V</text></g></g>
</svg></body></html>
